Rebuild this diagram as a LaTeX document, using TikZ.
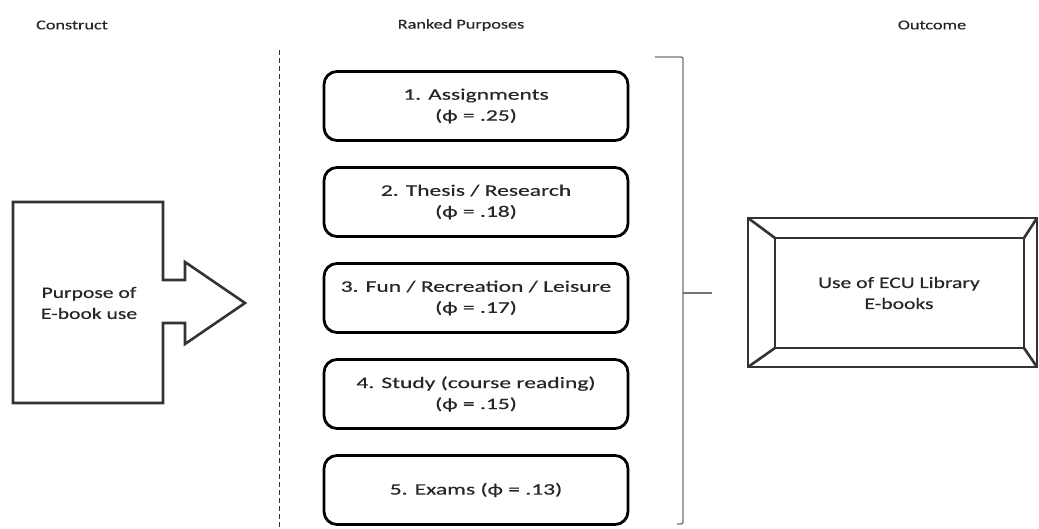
\documentclass[tikz,border=0pt]{standalone}
\usepackage{fontspec}
\setmainfont{Carlito}[FakeStretch=1.35, FakeBold=0.4]
\newfontfamily\purposefont{Carlito}[FakeStretch=1.47, FakeBold=0.4]
\begin{document}
\begin{tikzpicture}[x=1pt,y=-1pt,
  every node/.style={inner sep=0pt, align=center, text=black!85},
  header/.style={font=\fontsize{13.5}{16}\selectfont},
  label/.style={font=\fontsize{16}{21}\selectfont},
  purpose/.style={draw=black, line width=2.8pt, rounded corners=13pt,
    minimum width=304pt, minimum height=69pt,
    font=\purposefont\fontsize{16}{21}\selectfont},
  bevel/.style={draw=black!80, line width=2.6pt},
  brace/.style={draw=black!55, line width=1.4pt, rounded corners=2pt}]
\useasboundingbox (0,0) rectangle (1039,529);

% column headings
\node[header] (hc) at (72,25) {Construct};
\node[header] (hp) at (461,25) {Ranked Purposes};
\node[header] (ho) at (932,25) {Outcome};

% divider between construct and purposes
\coordinate (dtop) at (279,50);
\coordinate (dbot) at (279,529);
\draw[black!80, line width=0.9pt, dash pattern=on 5pt off 3pt] (dtop) -- (dbot);

% construct: box with arrow pointing right
\draw[bevel, line join=miter]
  (13,202) -- (163,202) -- (163,280) -- (185,280) -- (185,262) -- (245,303)
  -- (185,344) -- (185,323) -- (163,323) -- (163,403) -- (13,403) -- cycle;
\node[label] (construct) at (89,303) {Purpose of\\E-book use};

% ranked purposes
\node[purpose] (p1) at (476,106) {1. Assignments\\(ϕ = .25)};
\node[purpose] (p2) at (476,202) {2. Thesis / Research\\(ϕ = .18)};
\node[purpose] (p3) at (476,298) {3. Fun / Recreation / Leisure\\(ϕ = .17)};
\node[purpose] (p4) at (476,394) {4. Study (course reading)\\(ϕ = .15)};
\node[purpose] (p5) at (476,490) {5. Exams (ϕ = .13)};

% bracket gathering the purposes
\coordinate (btop) at (655,57);
\coordinate (bcor) at (683,57);
\coordinate (bmid) at (683,293);
\coordinate (btip) at (712,293);
\coordinate (bbot) at (683,524);
\coordinate (bend) at (677,524);
\draw[brace] (btop) -- (bcor) -- (bbot) -- (bend);
\draw[brace] (bmid) -- (btip);

% outcome: bevelled frame
\coordinate (oa) at (748,218);
\coordinate (ob) at (1037,218);
\coordinate (oc) at (1037,367);
\coordinate (od) at (748,367);
\coordinate (ia) at (775,238);
\coordinate (ib) at (1024,238);
\coordinate (ic) at (1024,348);
\coordinate (id) at (775,348);
\draw[bevel] (oa) -- (ob) -- (oc) -- (od) -- cycle;
\draw[bevel] (ia) -- (ib) -- (ic) -- (id) -- cycle;
\draw[bevel] (oa) -- (ia) (ob) -- (ib) (oc) -- (ic) (od) -- (id);
\node[label] (outcome) at (899,293) {Use of ECU Library\\E-books};
\end{tikzpicture}
\end{document}
